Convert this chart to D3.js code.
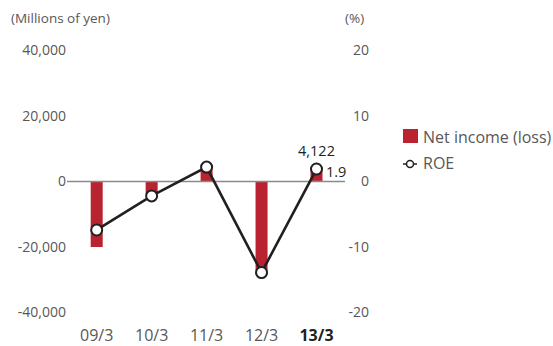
<!DOCTYPE html>
<html><head><meta charset="utf-8">
<script src="https://cdn.jsdelivr.net/npm/d3@7"></script>
<style>body{margin:0;background:#fff}svg{display:block;font-family:"Open Sans","Noto Sans",sans-serif}</style>
</head><body><svg id="c" width="553" height="346"></svg>
<script>
const categories = ["09/3","10/3","11/3","12/3","13/3"];
const netIncome = [-20000, -4100, 4300, -28500, 4122];
const roe = [-7.4, -2.2, 2.2, -13.9, 1.9];
const leftTicks = [40000, 20000, 0, -20000, -40000];
const rightTicks = [20, 10, 0, -10, -20];

const svg = d3.select("#c");
const x = d3.scalePoint().domain(categories).range([96.7, 316.5]);
const yL = d3.scaleLinear().domain([-40000, 40000]).range([312.5, 50.5]);
const yR = d3.scaleLinear().domain([-20, 20]).range([312.5, 50.5]);
const grey = "#595757";
const red = "#b9232f";
const hy = s => s.replace("\u2212","-");

// left axis
const la = svg.append("g").attr("transform","translate(66,0)")
  .call(d3.axisLeft(yL).tickValues(leftTicks).tickSize(0).tickPadding(0).tickFormat(d=>hy(d3.format(",")(d))));
la.select(".domain").remove();
la.selectAll("text").attr("fill",grey).style("font-size","14px").style("font-family","'Open Sans','Noto Sans',sans-serif");

const ra = svg.append("g").attr("transform","translate(369,0)")
  .call(d3.axisLeft(yR).tickValues(rightTicks).tickSize(0).tickPadding(0).tickFormat(d=>hy(d3.format("d")(d))));
ra.select(".domain").remove();
ra.selectAll("text").attr("fill",grey).style("font-size","14px").style("font-family","'Open Sans','Noto Sans',sans-serif");

svg.append("text").attr("x",11).attr("y",23).attr("fill",grey).style("font-size","13.5px").text("(Millions of yen)");
svg.append("text").attr("x",345).attr("y",23).attr("fill",grey).style("font-size","13.5px").text("(%)");

// bars
const bw = 12;
svg.selectAll("rect.bar").data(netIncome).join("rect").attr("class","bar")
  .attr("x",(d,i)=>x(categories[i])-bw/2).attr("width",bw)
  .attr("y",d=>Math.min(yL(d),yL(0))).attr("height",d=>Math.abs(yL(d)-yL(0)))
  .attr("fill",red);

// zero line
svg.append("line").attr("x1",67).attr("x2",345).attr("y1",yL(0)).attr("y2",yL(0))
  .attr("stroke","#8a8a8a").attr("stroke-width",1.5);

// ROE line
const line = d3.line().x((d,i)=>x(categories[i])).y(d=>yR(d));
svg.append("path").datum(roe).attr("d",line).attr("fill","none").attr("stroke","#231f20").attr("stroke-width",2.6);
svg.selectAll("circle.pt").data(roe).join("circle").attr("class","pt")
  .attr("cx",(d,i)=>x(categories[i])).attr("cy",d=>yR(d)).attr("r",5.5)
  .attr("fill","#fff").attr("stroke","#231f20").attr("stroke-width",2);

// x labels
svg.selectAll("text.xl").data(categories).join("text").attr("class","xl")
  .attr("x",d=>x(d)).attr("y",341).attr("text-anchor","middle")
  .attr("fill",(d,i)=>i===categories.length-1?"#231f20":grey)
  .style("font-weight",(d,i)=>i===categories.length-1?"bold":"normal")
  .style("font-size","16px").text(d=>d);

// value labels
const last = categories.length-1;
svg.append("text").attr("x",x(categories[last])).attr("y",156).attr("text-anchor","middle")
  .attr("fill","#231f20").style("font-size","14.5px").text(d3.format(",")(netIncome[last]));
svg.append("text").attr("x",326).attr("y",177).attr("fill","#231f20").style("font-size","14.5px").text(roe[last].toFixed(1));

// legend
svg.append("rect").attr("x",403).attr("y",129).attr("width",15).attr("height",14).attr("fill",red);
svg.append("text").attr("x",423).attr("y",143).attr("fill",grey).style("font-size","16px").text("Net income (loss)");
svg.append("line").attr("x1",403).attr("x2",417).attr("y1",164).attr("y2",164).attr("stroke","#231f20").attr("stroke-width",1.5);
svg.append("circle").attr("cx",410).attr("cy",164).attr("r",3.5).attr("fill","#fff").attr("stroke","#231f20").attr("stroke-width",1.5);
svg.append("text").attr("x",423).attr("y",169).attr("fill",grey).style("font-size","16px").text("ROE");
</script></body></html>
